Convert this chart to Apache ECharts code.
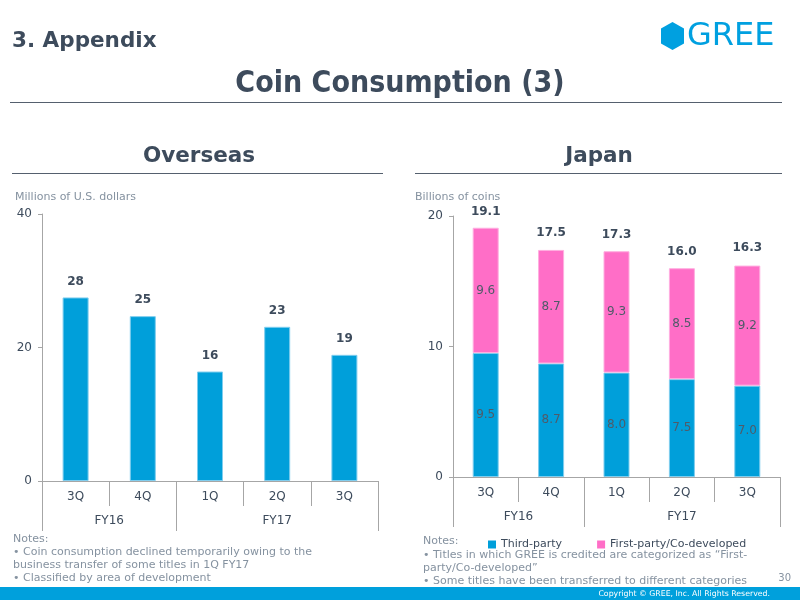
<!DOCTYPE html>
<html>
<head>
<meta charset="utf-8">
<title>Coin Consumption (3)</title>
<script src="https://cdn.jsdelivr.net/npm/echarts@6.0.0/dist/echarts.min.js"></script>
<style>
html,body{margin:0;padding:0;background:#fff;}
#chart{width:800px;height:600px;}
</style>
</head>
<body>
<div id="chart"></div>
<script>
// data
var quarters=['3Q','4Q','1Q','2Q','3Q'];
var fiscalYears=['FY16','FY17'];
var fyBounds=[0,2,5]; // category index where each fiscal year starts / ends
var overseas=[27.5,24.7,16.4,23.1,18.9];
var thirdParty=[9.5,8.7,8.0,7.5,7.0];
var firstParty=[9.6,8.7,9.3,8.5,9.2];
var japanTotal=[19.1,17.5,17.3,16.0,16.3];
var overseasTicks=[0,20,40];
var japanTicks=[0,10,20];

var dark='#3d4b5c', grey='#8592a0', axisGrey='#a6a6a6', blue='#009fda', pink='#ff6ec7';
var font="'DejaVu Sans', Verdana, sans-serif";
var condensed="'DejaVu Sans Condensed', 'DejaVu Sans', sans-serif";

//上段的季度轴
function quarterAxis(grid){
	return {
		type:'category', gridIndex:grid, data:quarters, position:'bottom',
		axisLine:{lineStyle:{color:axisGrey}},
		axisTick:{show:true, interval:0, length:25, lineStyle:{color:axisGrey}},
		axisLabel:{interval:0, margin:10, color:dark, fontSize:12, fontFamily:font}
	};
}
//下段的财年轴，用value轴画不等宽的分组
function yearAxis(grid){
	var mids=fiscalYears.map(function(f,i){return (fyBounds[i]+fyBounds[i+1])/2;});
	return {
		type:'value', gridIndex:grid, position:'bottom', min:0, max:quarters.length,
		axisLine:{show:false}, splitLine:{show:false},
		axisTick:{show:true, customValues:fyBounds, length:50, lineStyle:{color:axisGrey}},
		axisLabel:{customValues:mids, margin:34, color:dark, fontSize:12, fontFamily:font,
			formatter:function(v){return fiscalYears[mids.indexOf(v)];}}
	};
}
function valueAxis(grid,ticks){
	return {
		type:'value', gridIndex:grid, min:ticks[0], max:ticks[ticks.length-1], interval:ticks[1]-ticks[0],
		axisLine:{show:true, lineStyle:{color:axisGrey}},
		axisTick:{show:true, length:4, lineStyle:{color:axisGrey}},
		splitLine:{show:false},
		axisLabel:{margin:10, color:dark, fontSize:12, fontFamily:font}
	};
}
function txt(x,y,text,size,color,opts){
	opts=opts||{};
	return {type:'text', x:x, y:y, silent:true, style:{
		text:text, fill:color, fontSize:size, fontFamily:opts.family||font,
		fontWeight:opts.weight||'normal', align:opts.align||'left', verticalAlign:'middle'}};
}
function hline(x1,x2,y,color){
	return {type:'line', silent:true, shape:{x1:x1,y1:y,x2:x2,y2:y}, style:{stroke:color, lineWidth:1}};
}

var myChart=echarts.init(document.getElementById('chart'));
var option={
	animation:false,
	grid:[
		{left:42, right:422, top:214, bottom:119},
		{left:453, right:20, top:216, bottom:123}
	],
	xAxis:[quarterAxis(0), yearAxis(0), quarterAxis(1), yearAxis(1)],
	yAxis:[valueAxis(0,overseasTicks), valueAxis(1,japanTicks)],
	legend:{
		data:['Third-party','First-party/Co-developed'],
		left:483, top:534, icon:'rect', itemWidth:8, itemHeight:8, itemGap:35,
		itemStyle:{borderWidth:0},
		textStyle:{color:dark, fontSize:11, fontFamily:font}
	},
	series:[{
		name:'Overseas', type:'bar', xAxisIndex:0, yAxisIndex:0, data:overseas, barWidth:26,
		itemStyle:{color:blue, borderColor:'#7fcdee', borderWidth:1},
		label:{show:true, position:'top', distance:10, color:dark, fontWeight:'bold', fontSize:12, fontFamily:font,
			formatter:function(p){return Math.round(p.value);}}
	},{
		name:'Third-party', type:'bar', xAxisIndex:2, yAxisIndex:1, stack:'jp', data:thirdParty, barWidth:26,
		itemStyle:{color:blue, borderColor:'#7fcdee', borderWidth:1},
		label:{show:true, position:'inside', color:'#4f5b69', fontSize:12, fontFamily:font,
			formatter:function(p){return p.value.toFixed(1);}}
	},{
		name:'First-party/Co-developed', type:'bar', xAxisIndex:2, yAxisIndex:1, stack:'jp', data:firstParty, barWidth:26,
		itemStyle:{color:pink, borderColor:'#ffaee0', borderWidth:1},
		label:{show:true, position:'inside', color:'#4f5b69', fontSize:12, fontFamily:font,
			formatter:function(p){return p.value.toFixed(1);}}
	},{
		name:'Total', type:'scatter', xAxisIndex:2, yAxisIndex:1, data:japanTotal, symbolSize:0, silent:true,
		itemStyle:{opacity:1},
		label:{show:true, position:'top', distance:10, color:dark, fontWeight:'bold', fontSize:12, fontFamily:font,
			formatter:function(p){return p.value.toFixed(1);}}
	}],
	graphic:[
		txt(12,41,'3. Appendix',21.5,dark,{weight:'bold'}),
		txt(400,84,'Coin Consumption (3)',30,dark,{weight:'bold', family:condensed, align:'center'}),
		hline(10,782,102.5,'#55606e'),
		txt(199,156,'Overseas',21.5,dark,{weight:'bold', align:'center'}),
		hline(12,383,173.5,'#55606e'),
		txt(599,156,'Japan',21.5,dark,{weight:'bold', align:'center'}),
		hline(415,782,173.5,'#55606e'),
		txt(15,197,'Millions of U.S. dollars',11,grey),
		txt(415,197,'Billions of coins',11,grey),
		// GREE logo
		{type:'polygon', silent:true, shape:{points:[[672.5,22],[684,28.5],[684,43.5],[672.5,50],[661,43.5],[661,28.5]]}, style:{fill:'#00a0e0'}},
		txt(687,37,'GREE',32,'#00a0e0',{family:"'DejaVu Sans', sans-serif"}),
		// notes
		txt(13,539,'Notes:',11,grey),
		txt(13,552,'\u2022 Coin consumption declined temporarily owing to the',11,grey),
		txt(13,565,'business transfer of some titles in 1Q FY17',11,grey),
		txt(13,578,'\u2022 Classified by area of development',11,grey),
		txt(423,541,'Notes:',11,grey),
		txt(423,555,'\u2022 Titles in which GREE is credited are categorized as \u201cFirst-',11,grey),
		txt(423,568,'party/Co-developed\u201d',11,grey),
		txt(423,581,'\u2022 Some titles have been transferred to different categories',11,grey),
		txt(791,578,'30',10,grey,{align:'right'}),
		// footer
		{type:'rect', silent:true, shape:{x:0,y:587,width:800,height:13}, style:{fill:'#00a0dc'}},
		txt(770,594,'Copyright \u00a9 GREE, Inc. All Rights Reserved.',7.8,'#ffffff',{align:'right'})
	]
};
myChart.setOption(option);
</script>
</body>
</html>
